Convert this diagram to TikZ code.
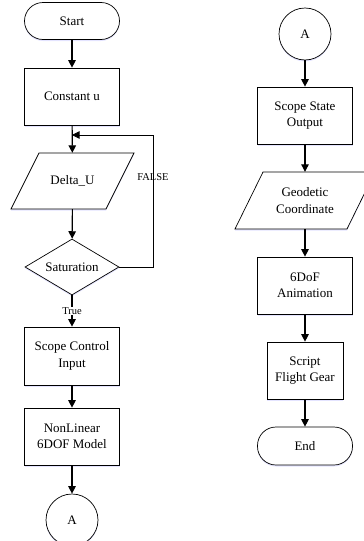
\documentclass[tikz,border=0pt]{standalone}
\usepackage{fontspec}
\setmainfont{Liberation Serif}
\usetikzlibrary{shapes.geometric,arrows.meta,shadows}
\begin{document}
\begin{tikzpicture}[x=1pt,y=-1pt,
  shd/.style={drop shadow={shadow xshift=0pt,shadow yshift=-1.5pt,fill=blue!30,opacity=0.35}},
  box/.style={draw,line width=0.7pt,fill=white,shd,minimum width=95pt,minimum height=57pt,inner sep=0pt,align=center,font=\fontsize{13}{16.5}\selectfont},
  term/.style={box,rounded corners=18.5pt,minimum height=37pt},
  conn/.style={draw,circle,line width=0.7pt,fill=white,shd,minimum size=52pt,inner sep=0pt,font=\fontsize{13}{16.5}\selectfont},
  decide/.style={draw,diamond,line width=0.7pt,fill=white,shd,minimum width=94pt,minimum height=56pt,inner sep=0pt,shape aspect=1.68,font=\fontsize{13}{16.5}\selectfont},
  plain/.style={inner sep=0pt,minimum height=56pt,align=center,font=\fontsize{13}{16.5}\selectfont},
  para/.style={line width=0.7pt,fill=white,shd},
  arr/.style={line width=1.1pt,-{Triangle[length=7.5pt,width=7.5pt]}},
  fbarr/.style={line width=0.8pt,-{Triangle[length=7.5pt,width=7.5pt]}},
  lbl/.style={font=\fontsize{10.5}{12}\selectfont,inner sep=1pt}]
\useasboundingbox (0,0) rectangle (364,541);
% left column
\node[term] (start) at (72,21) {Start};
\node[box] (const) at (72,96.5) {Constant u};
\draw[para] (39,153) -- (134,153) -- (106,209) -- (11,209) -- cycle;
\node[plain] (delta) at (72.5,181) {Delta\_U};
\node[decide] (sat) at (72,267) {Saturation};
\node[box,minimum height=58pt] (sci) at (72,356) {Scope Control\\Input};
\node[box] (nl) at (72,436.5) {NonLinear\\6DOF Model};
\node[conn] (a1) at (72,520) {A};
% right column
\node[conn] (a2) at (305,34) {A};
\node[box] (sso) at (305,115.5) {Scope State\\Output};
\draw[para] (263,172) -- (375,172) -- (347,229) -- (235,229) -- cycle;
\node[plain,minimum height=57pt] (geo) at (305,200.5) {Geodetic\\Coordinate};
\node[box] (anim) at (305,285.5) {6DoF\\Animation};
\node[box,minimum width=76pt] (scr) at (305,370.5) {Script\\Flight Gear};
\node[term,minimum height=38pt] (end) at (305,446) {End};
% connectors
\coordinate (fbtop) at (153,135);
\coordinate (join) at (72,135);
\draw[arr] (start) -- (const);
\draw[arr] (const) -- (delta);
\draw[arr] (delta) -- (sat);
\draw[arr] (sat) -- node[lbl,fill=white] (tl) {True} (sci);
\draw[fbarr] (sat.east) -| (fbtop) -- (join);
\node[lbl] (fl) at (153,177) {FALSE};
\draw[arr] (sci) -- (nl);
\draw[arr] (nl) -- (a1);
\draw[arr] (a2) -- (sso);
\draw[arr] (sso) -- (geo);
\draw[arr] (geo) -- (anim);
\draw[arr] (anim) -- (scr);
\draw[arr] (scr) -- (end);
\end{tikzpicture}
\end{document}
